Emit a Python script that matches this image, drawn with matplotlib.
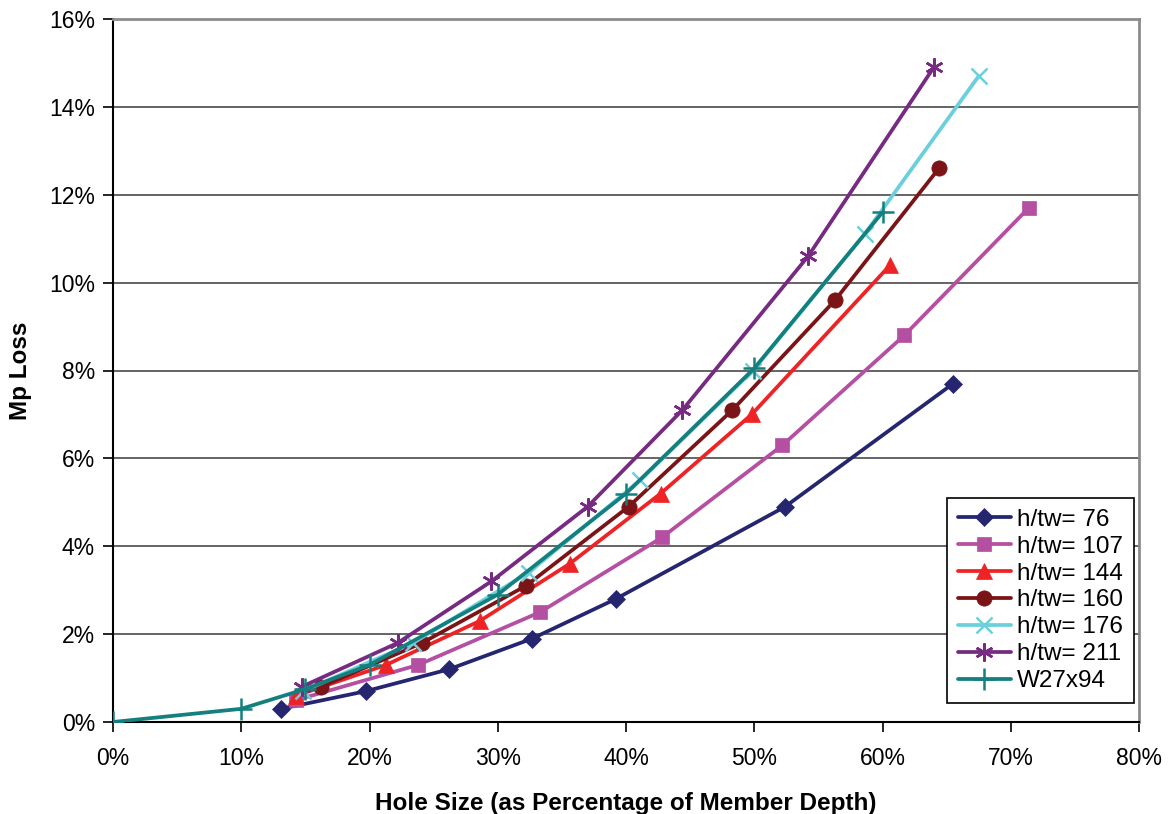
import matplotlib
matplotlib.use("Agg")
import matplotlib.pyplot as plt
from matplotlib.ticker import FuncFormatter, MultipleLocator

plt.rcParams['font.family'] = ['Liberation Sans', 'DejaVu Sans']

# Hole size (% of member depth) and plastic moment loss (%) for each web slenderness
x_76 = [13.1, 19.7, 26.2, 32.7, 39.2, 52.4, 65.5]
y_76 = [0.3, 0.7, 1.2, 1.9, 2.8, 4.9, 7.7]

x_107 = [14.3, 23.8, 33.3, 42.8, 52.2, 61.7, 71.4]
y_107 = [0.5, 1.3, 2.5, 4.2, 6.3, 8.8, 11.7]

x_144 = [14.3, 21.3, 28.6, 35.6, 42.7, 49.8, 60.6]
y_144 = [0.6, 1.3, 2.3, 3.6, 5.2, 7.0, 10.4]

x_160 = [16.2, 24.1, 32.2, 40.2, 48.3, 56.3, 64.4]
y_160 = [0.8, 1.8, 3.1, 4.9, 7.1, 9.6, 12.6]

x_176 = [14.8, 23.4, 32.4, 41.1, 49.9, 58.6, 67.5]
y_176 = [0.7, 1.8, 3.4, 5.5, 8.0, 11.1, 14.7]

x_211 = [14.7, 22.2, 29.5, 37.0, 44.4, 54.2, 64.0]
y_211 = [0.8, 1.8, 3.2, 4.9, 7.1, 10.6, 14.9]

x_w27 = [0, 10, 15, 20, 30, 40, 50, 60]
y_w27 = [0, 0.3, 0.75, 1.3, 2.9, 5.2, 8.05, 11.6]

series = [
    ("h/tw= 76", x_76, y_76, "#25266f", "D", 9),
    ("h/tw= 107", x_107, y_107, "#b44fa2", "s", 10),
    ("h/tw= 144", x_144, y_144, "#ee2326", "^", 11),
    ("h/tw= 160", x_160, y_160, "#7b1416", "o", 11),
    ("h/tw= 176", x_176, y_176, "#6ccfdc", "x", 11),
    ("h/tw= 211", x_211, y_211, "#772a82", (6, 2, 0), 13),
    ("W27x94", x_w27, y_w27, "#13807f", "+", 16),
]

fig = plt.figure(figsize=(11.75, 8.14), dpi=100)
ax = fig.add_axes([113 / 1175, 1 - 722 / 814, (1139 - 113) / 1175, (722 - 19) / 814])

for label, xs, ys, color, marker, ms in series:
    ax.plot(xs, ys, color=color, lw=2.7, marker=marker, markersize=ms,
            markeredgewidth=1.8 if marker in ("x", "+", (6, 2, 0)) else 0.5,
            markeredgecolor=color, markerfacecolor=color, label=label,
            solid_capstyle='round', zorder=3)

ax.set_xlim(0, 80)
ax.set_ylim(0, 16)
ax.xaxis.set_major_locator(MultipleLocator(10))
ax.yaxis.set_major_locator(MultipleLocator(2))
ax.xaxis.set_major_formatter(FuncFormatter(lambda v, p: f"{v:.0f}%"))
ax.yaxis.set_major_formatter(FuncFormatter(lambda v, p: f"{v:.0f}%"))

ax.grid(axis='y', color='#3a3a3a', lw=1.1, zorder=1)
ax.set_axisbelow(True)

for side in ('top', 'right'):
    ax.spines[side].set_color('#8c8c8c')
    ax.spines[side].set_linewidth(2)
for side in ('left', 'bottom'):
    ax.spines[side].set_color('black')
    ax.spines[side].set_linewidth(1.5)

ax.tick_params(axis='both', direction='out', length=7, width=1.2,
               labelsize=16.5, colors='black', pad=6)
ax.tick_params(axis='x', pad=11)

ax.set_xlabel("Hole Size (as Percentage of Member Depth)", fontsize=17.5,
              fontweight='bold', labelpad=16)
ax.set_ylabel("Mp Loss", fontsize=17.5, fontweight='bold', labelpad=12)

leg = ax.legend(loc='lower right', bbox_to_anchor=(1134 / 1175, 1 - 703 / 814),
                bbox_transform=fig.transFigure, fontsize=17.5, frameon=True,
                fancybox=False, edgecolor='black', framealpha=1,
                handlelength=2.2, handletextpad=0.25, labelspacing=0.2,
                borderpad=0.45, borderaxespad=0)
leg.get_frame().set_linewidth(1.2)

fig.savefig("out.png", dpi=100, facecolor='white')
